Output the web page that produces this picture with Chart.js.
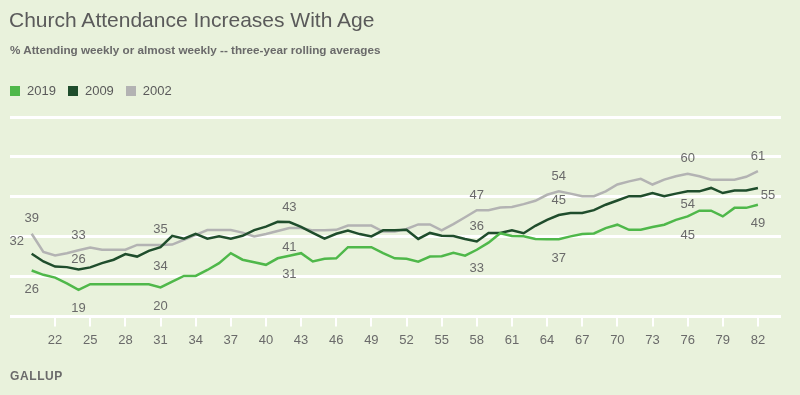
<!DOCTYPE html>
<html>
<head>
<meta charset="utf-8">
<script src="https://cdn.jsdelivr.net/npm/chart.js@4.4.1/dist/chart.umd.min.js"></script>
<style>
    html, body { margin: 0; padding: 0; background: #e9f2dc; }
    #wrap { position: relative; width: 800px; height: 395px; overflow: hidden; font-family: "Liberation Sans", Arial, sans-serif; }
    #chart { position: absolute; left: 0; top: 0; }
    .txt { position: absolute; line-height: 1; white-space: nowrap; }
    #title { left: 9px; top: 9px; font-size: 21px; color: #5a5a5a; }
    #subtitle { left: 10px; top: 44px; font-size: 11.7px; font-weight: bold; color: #6a6a6a; }
    #legend { left: 10px; top: 84px; font-size: 13px; color: #5a5a5a; }
    #legend span.sw { display: inline-block; width: 10px; height: 10px; margin-right: 7px; vertical-align: -1px; }
    #legend span.item { margin-right: 12px; }
    #brand { left: 10px; top: 370px; font-size: 12px; font-weight: bold; color: #6a6a6a; letter-spacing: 0.6px; }
</style>
</head>
<body>
<div id="wrap">
    <canvas id="chart" width="800" height="395"></canvas>
    <div class="txt" id="title">Church Attendance Increases With Age</div>
    <div class="txt" id="subtitle">% Attending weekly or almost weekly -- three-year rolling averages</div>
    <div class="txt" id="legend"></div>
    <div class="txt" id="brand">GALLUP</div>
</div>
<script>
// Ages 20..82
const ages = [];
for (let a = 20; a <= 82; a++) ages.push(a);

const tickAges = [22, 25, 28, 31, 34, 37, 40, 43, 46, 49, 52, 55, 58, 61, 64, 67, 70, 73, 76, 79, 82];
const gridValues = [10, 24, 38, 52, 66, 80];

const seriesNames = ['2019', '2009', '2002'];

const values2019 = [
    26.1, 24.6, 23.6, 21.6, 19.3, 21.3, 21.3, 21.3, 21.3, 21.3,
    21.3, 20.2, 22.2, 24.2, 24.2, 26.3, 28.7, 32.2, 29.9, 29.0,
    28.1, 30.4, 31.3, 32.2, 29.3, 30.2, 30.4, 34.3, 34.3, 34.3,
    32.2, 30.4, 30.2, 29.2, 31.0, 31.1, 32.3, 31.3, 33.4, 35.9,
    39.2, 38.2, 38.1, 37.2, 37.1, 37.1, 38.1, 38.9, 39.1, 41.0,
    42.2, 40.4, 40.4, 41.4, 42.2, 43.9, 45.1, 47.1, 47.1, 45.1,
    48.1, 48.1, 49.2
];

const values2009 = [
    32.0, 29.3, 27.5, 27.3, 26.5, 27.2, 28.7, 29.9, 31.9, 31.0,
    33.0, 34.3, 38.3, 37.3, 39.0, 37.3, 38.1, 37.3, 38.3, 40.3,
    41.5, 43.2, 43.1, 41.4, 39.3, 37.3, 39.0, 40.1, 38.9, 38.1,
    40.2, 40.2, 40.4, 37.2, 39.3, 38.3, 38.2, 37.2, 36.3, 39.3,
    39.3, 40.2, 39.2, 41.8, 43.9, 45.6, 46.3, 46.3, 47.3, 49.2,
    50.7, 52.2, 52.2, 53.3, 52.2, 53.1, 53.9, 53.9, 55.1, 53.3,
    54.2, 54.2, 55.1
];

const values2002 = [
    39.0, 32.6, 31.4, 32.2, 33.2, 34.2, 33.4, 33.4, 33.4, 35.1,
    35.1, 35.1, 35.2, 36.9, 38.6, 40.3, 40.3, 40.3, 39.4, 38.1,
    38.9, 40.0, 41.0, 41.0, 40.2, 40.2, 40.4, 41.9, 41.9, 41.9,
    39.8, 39.8, 40.7, 42.3, 42.3, 40.2, 42.4, 44.8, 47.3, 47.3,
    48.2, 48.4, 49.4, 50.6, 52.7, 53.9, 53.1, 52.2, 52.2, 53.9,
    56.3, 57.4, 58.3, 56.3, 58.0, 59.2, 60.1, 59.2, 58.0, 58.0,
    58.0, 59.0, 61.0
];

// [series, age, text, placement]
const pointLabels = [
    ['2002', 20, '39', 'above'], ['2009', 20, '32', 'left'], ['2019', 20, '26', 'below'],
    ['2002', 24, '33', 'above'], ['2009', 24, '26', 'aboveNear'], ['2019', 24, '19', 'below'],
    ['2002', 31, '35', 'above'], ['2009', 31, '34', 'below'], ['2019', 31, '20', 'below'],
    ['2009', 42, '43', 'above'], ['2002', 42, '41', 'below'], ['2019', 42, '31', 'below'],
    ['2002', 58, '47', 'above'], ['2009', 58, '36', 'above'], ['2019', 58, '33', 'below'],
    ['2002', 65, '54', 'above'], ['2009', 65, '45', 'above'], ['2019', 65, '37', 'below'],
    ['2002', 76, '60', 'above'], ['2009', 76, '54', 'belowNear'], ['2019', 76, '45', 'below'],
    ['2002', 82, '61', 'above'], ['2009', 82, '55', 'right'], ['2019', 82, '49', 'below']
];

const colors = { '2019': '#4fb84a', '2009': '#1f4d2c', '2002': '#b3b3b3' };
const seriesValues = { '2019': values2019, '2009': values2009, '2002': values2002 };

// label offsets from the point, in px
const placeOffsets = {
    above: [0, -15],
    aboveNear: [0, -10],
    below: [0, 19],
    belowNear: [0, 13],
    left: [-15, -12],
    right: [10, 7]
};

// Legend
const legendEl = document.getElementById('legend');
seriesNames.forEach(name => {
    legendEl.innerHTML += `<span class="item"><span class="sw" style="background:${colors[name]}"></span>${name}</span>`;
});

// Draw value labels next to the lines
const pointLabelPlugin = {
    id: 'pointLabels',
    afterDatasetsDraw(chart) {
        const ctx = chart.ctx;
        const xs = chart.scales.x;
        const ys = chart.scales.y;
        ctx.save();
        ctx.font = '13px "Liberation Sans", Arial, sans-serif';
        ctx.fillStyle = '#6a6a6a';
        ctx.textAlign = 'center';
        ctx.textBaseline = 'middle';
        pointLabels.forEach(([series, age, text, place]) => {
            const v = seriesValues[series][ages.indexOf(age)];
            const off = placeOffsets[place];
            ctx.fillText(text, xs.getPixelForValue(age) + off[0], ys.getPixelForValue(v) + off[1]);
        });
        ctx.restore();
    }
};

function makeDataset(name) {
    return {
        label: name,
        data: ages.map((a, i) => ({ x: a, y: seriesValues[name][i] })),
        borderColor: colors[name],
        borderWidth: 2.5,
        pointRadius: 0,
        tension: 0,
        fill: false
    };
}

new Chart(document.getElementById('chart'), {
    type: 'line',
    data: {
        datasets: seriesNames.map(makeDataset)
    },
    options: {
        responsive: false,
        animation: false,
        layout: {
            padding: { left: 10, right: 19, top: 117, bottom: 41 }
        },
        plugins: {
            legend: { display: false },
            tooltip: { enabled: false }
        },
        scales: {
            x: {
                type: 'linear',
                min: 18.15,
                max: 83.97,
                afterBuildTicks: axis => { axis.ticks = tickAges.map(v => ({ value: v })); },
                grid: {
                    drawOnChartArea: false,
                    drawTicks: true,
                    tickLength: 10,
                    color: '#ffffff',
                    lineWidth: 2
                },
                border: { display: false },
                ticks: {
                    color: '#6a6a6a',
                    padding: 6,
                    maxRotation: 0,
                    autoSkip: false,
                    font: { family: '"Liberation Sans", Arial, sans-serif', size: 13 }
                }
            },
            y: {
                min: 10,
                max: 80,
                afterBuildTicks: axis => { axis.ticks = gridValues.map(v => ({ value: v })); },
                grid: {
                    color: '#ffffff',
                    lineWidth: 3,
                    drawTicks: false
                },
                border: { display: false },
                ticks: { display: false }
            }
        }
    },
    plugins: [pointLabelPlugin]
});
</script>
</body>
</html>
